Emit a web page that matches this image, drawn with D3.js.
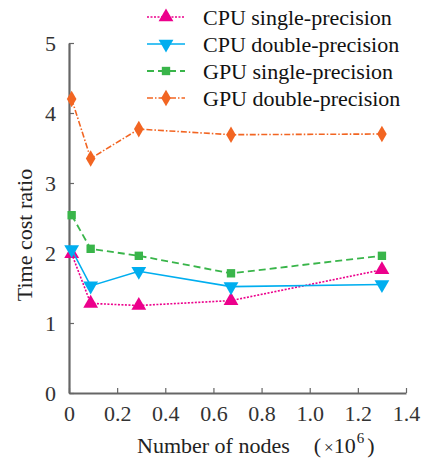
<!DOCTYPE html>
<html>
<head>
<meta charset="utf-8">
<script src="https://cdn.jsdelivr.net/npm/d3@7"></script>
<style>
  body { margin: 0; background: #fff; }
  text { font-family: "Liberation Serif", "Times New Roman", serif; }
</style>
</head>
<body>
<div id="chart"></div>
<script>
var max_w = 430;
var max_h = 464;
var margin = {top: 43, right: 24, bottom: 71, left: 69};
var width = max_w - margin.left - margin.right;
var height = max_h - margin.top - margin.bottom;

// data
var nodes = [0.011, 0.09, 0.29, 0.673, 1.30];
var cpuSingle = [1.99, 1.28, 1.25, 1.32, 1.76];
var cpuDouble = [2.05, 1.53, 1.74, 1.52, 1.55];
var gpuSingle = [2.54, 2.06, 1.96, 1.71, 1.96];
var gpuDouble = [4.20, 3.35, 3.77, 3.69, 3.70];
var xTicks = [0, 0.2, 0.4, 0.6, 0.8, 1.0, 1.2, 1.4];
var yTicks = [0, 1, 2, 3, 4, 5];

var series = [
  {name: "CPU single-precision", values: cpuSingle, color: "#ec008c", dash: "2,1.5", width: 1.6, symbol: d3.symbolTriangle, size: 95, rot: 0},
  {name: "CPU double-precision", values: cpuDouble, color: "#00aeef", dash: null, width: 1.6, symbol: d3.symbolTriangle, size: 95, rot: 180},
  {name: "GPU single-precision", values: gpuSingle, color: "#39b54a", dash: "7,4", width: 1.8, symbol: d3.symbolSquare, size: 70, rot: 0},
  {name: "GPU double-precision", values: gpuDouble, color: "#f26522", dash: "6,2,1.5,2", width: 1.6, symbol: d3.symbolDiamond, size: 80, rot: 0}
];

var x = d3.scaleLinear().domain([0, 1.4]).range([0, width]);
var y = d3.scaleLinear().domain([0, 5]).range([height, 0]);

var svg = d3.select("#chart")
  .append("svg")
    .attr("width", max_w)
    .attr("height", max_h)
  .append("g")
    .attr("transform", "translate(" + margin.left + "," + margin.top + ")");

// axes, ticks pointing inward
var xAxis = svg.append("g")
  .attr("transform", "translate(0," + height + ")")
  .call(d3.axisBottom(x).tickValues(xTicks).tickSizeInner(-5).tickSizeOuter(0)
    .tickPadding(12).tickFormat(function(d){ return d === 0 ? "0" : d3.format(".1f")(d); }));

var yAxis = svg.append("g")
  .call(d3.axisLeft(y).tickValues(yTicks).tickSizeInner(-5).tickSizeOuter(0)
    .tickPadding(13).tickFormat(d3.format("d")));

[xAxis, yAxis].forEach(function(a){
  a.attr("font-family", null);
  a.select(".domain").attr("stroke", "#666").attr("stroke-width", 2.2);
  a.selectAll(".tick line").attr("stroke", "#666").attr("stroke-width", 1.2);
  a.selectAll(".tick text").attr("fill", "#333").style("font-size", "22px");
});

// lines and markers
var line = d3.line()
  .x(function(d){ return x(d[0]); })
  .y(function(d){ return y(d[1]); });

series.forEach(function(s){
  var pts = nodes.map(function(n, i){ return [n, s.values[i]]; });
  svg.append("path")
    .datum(pts)
    .attr("fill", "none")
    .attr("stroke", s.color)
    .attr("stroke-width", s.width)
    .attr("stroke-dasharray", s.dash)
    .attr("d", line);
  svg.selectAll(null)
    .data(pts)
    .enter().append("path")
    .attr("d", d3.symbol().type(s.symbol).size(s.size))
    .attr("fill", s.color)
    .attr("transform", function(d){
      return "translate(" + x(d[0]) + "," + y(d[1]) + ") rotate(" + s.rot + ")";
    });
});

// legend
var legend = svg.append("g").attr("transform", "translate(" + (147 - margin.left) + "," + (17 - margin.top) + ")");
series.forEach(function(s, i){
  var g = legend.append("g").attr("transform", "translate(0," + (i * 27) + ")");
  g.append("line")
    .attr("x1", 0).attr("x2", 38).attr("y1", 0).attr("y2", 0)
    .attr("stroke", s.color).attr("stroke-width", s.width)
    .attr("stroke-dasharray", s.dash);
  g.append("path")
    .attr("d", d3.symbol().type(s.symbol).size(s.size))
    .attr("fill", s.color)
    .attr("transform", "translate(19,0) rotate(" + s.rot + ")");
  g.append("text")
    .attr("x", 56).attr("y", 0).attr("dy", "0.35em")
    .style("font-size", "22px").attr("fill", "#111")
    .text(s.name);
});

// axis titles
svg.append("text")
  .attr("transform", "translate(" + (24 - margin.left) + "," + (235 - margin.top) + ") rotate(-90)")
  .attr("text-anchor", "middle")
  .attr("dy", "0.35em")
  .style("font-size", "22px").attr("fill", "#222")
  .text("Time cost ratio");

var xt = svg.append("text")
  .attr("x", 137 - margin.left).attr("y", 453 - margin.top)
  .style("font-size", "22px").attr("fill", "#222");
xt.append("tspan").text("Number of nodes");
xt.append("tspan").attr("dx", 24).text("(");
xt.append("tspan").attr("dx", 3).style("font-size", "17px").text("\u00d7");
xt.append("tspan").text("10");
xt.append("tspan").attr("dy", -10).attr("dx", 1).style("font-size", "15px").text("6");
xt.append("tspan").attr("dy", 10).attr("dx", 3).text(")");
</script>
</body>
</html>
